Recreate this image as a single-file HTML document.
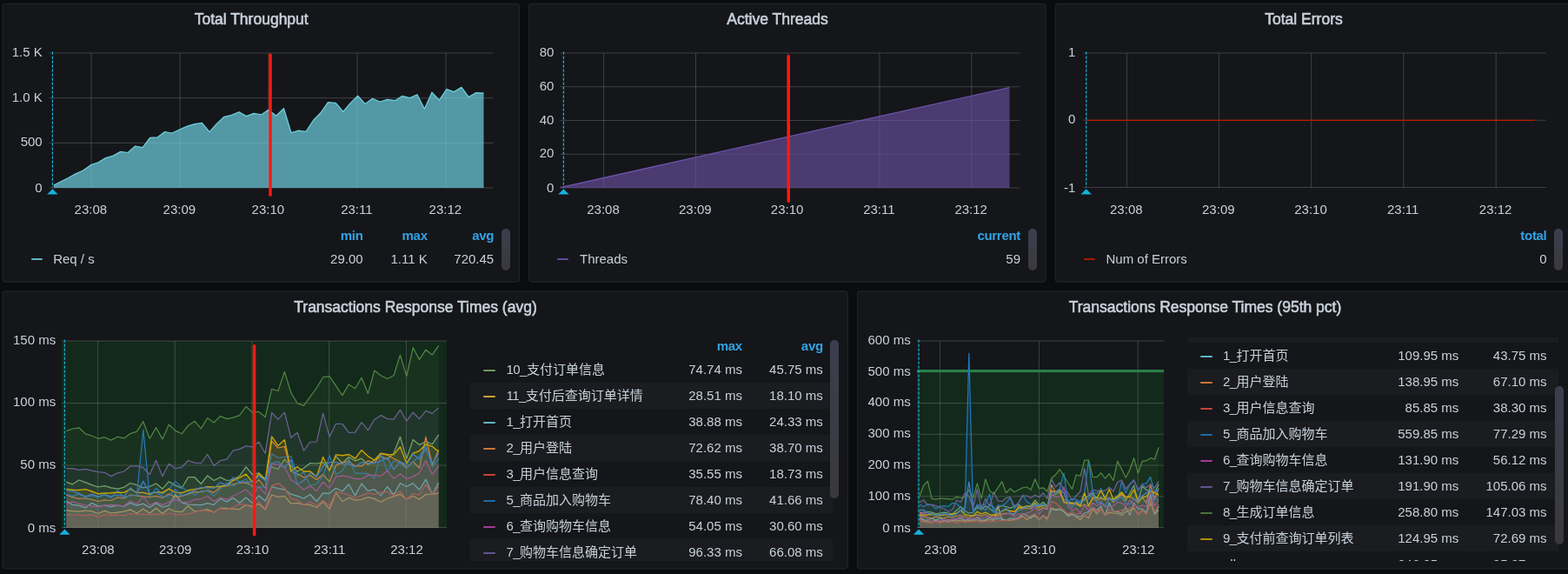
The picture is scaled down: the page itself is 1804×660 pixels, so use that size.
<!DOCTYPE html>
<html lang="zh"><head><meta charset="utf-8"><title>Dashboard</title><style>
html,body{margin:0;padding:0;background:#0b0c0e}
body{width:1804px;height:660px;overflow:hidden;position:relative;font-family:"Liberation Sans","Noto Sans CJK SC",sans-serif;color:#c7d0d9;font-size:15px}
.panel{position:absolute;background:#141619;border:1px solid #202226;border-radius:3px;box-sizing:border-box}
.t{position:absolute;white-space:nowrap;line-height:1}
.title{font-weight:normal;color:#c7d0d9;-webkit-text-stroke:0.6px #c7d0d9}
.lh{color:#33a2e5;font-weight:bold;letter-spacing:-0.3px}
.sb{position:absolute;border-radius:5px;background:linear-gradient(#3d3e4e,#39393c)}
.li{position:absolute;height:2px;border-radius:1px;opacity:.85}
.clip{position:absolute;overflow:hidden}
.px{letter-spacing:-0.55px}
.stripe{position:absolute;height:30px;background:#1a1c20}
svg{position:absolute;left:0;top:0}
</style></head><body>

<svg width="1804" height="660" viewBox="0 0 1804 660">
<rect x="3.02" y="4.33" width="594.45" height="319.85" rx="3.2" fill="#141619" stroke="#202226" stroke-width="1.25"/>
<rect x="608.52" y="4.33" width="594.55" height="319.85" rx="3.2" fill="#141619" stroke="#202226" stroke-width="1.25"/>
<rect x="1214.33" y="4.33" width="596.05" height="319.85" rx="3.2" fill="#141619" stroke="#202226" stroke-width="1.25"/>
<rect x="3.02" y="334.93" width="972.25" height="318.85" rx="3.2" fill="#141619" stroke="#202226" stroke-width="1.25"/>
<rect x="986.52" y="334.93" width="823.85" height="318.85" rx="3.2" fill="#141619" stroke="#202226" stroke-width="1.25"/>
<rect x="56.50" y="60.50" width="511.00" height="1" fill="rgba(200,200,200,0.235)"/>
<rect x="56.50" y="112.17" width="511.00" height="1" fill="rgba(200,200,200,0.235)"/>
<rect x="56.50" y="163.83" width="511.00" height="1" fill="rgba(200,200,200,0.235)"/>
<rect x="56.50" y="215.50" width="511.00" height="1" fill="rgba(200,200,200,0.235)"/>
<rect x="104.50" y="61.00" width="1" height="155.00" fill="rgba(200,200,200,0.235)"/>
<rect x="206.50" y="61.00" width="1" height="155.00" fill="rgba(200,200,200,0.235)"/>
<rect x="308.50" y="61.00" width="1" height="155.00" fill="rgba(200,200,200,0.235)"/>
<rect x="410.50" y="61.00" width="1" height="155.00" fill="rgba(200,200,200,0.235)"/>
<rect x="512.50" y="61.00" width="1" height="155.00" fill="rgba(200,200,200,0.235)"/>
<polygon points="61.7,216 61.7,213.0 70.1,208.8 78.6,204.5 87.1,199.9 95.6,196.0 104.5,189.7 113.0,186.9 121.7,181.6 130.2,179.1 138.7,174.4 147.1,175.5 155.6,168.0 164.1,169.7 172.6,158.3 181.1,157.9 189.6,151.5 198.0,153.0 206.5,149.0 215.4,145.1 223.9,142.6 232.4,141.3 241.0,151.7 249.5,142.1 258.0,134.3 266.5,132.4 275.0,128.7 283.4,133.6 291.9,130.4 300.4,131.9 308.9,126.2 317.6,133.2 326.5,124.7 335.0,152.7 343.5,150.2 352.0,151.4 360.4,138.5 368.9,129.8 377.4,117.7 386.3,118.4 394.8,128.3 403.3,118.4 411.6,110.3 420.1,119.4 428.6,113.3 437.5,117.2 445.6,114.3 454.5,115.7 462.6,110.4 471.5,112.6 480.0,108.7 488.4,125.3 496.9,106.2 505.4,115.1 513.9,102.6 522.4,105.6 530.9,100.3 539.3,111.5 547.8,106.6 556.5,107.1 556.5,216" fill="#6ed0e0" fill-opacity="0.7"/>
<polyline points="61.7,213.0 70.1,208.8 78.6,204.5 87.1,199.9 95.6,196.0 104.5,189.7 113.0,186.9 121.7,181.6 130.2,179.1 138.7,174.4 147.1,175.5 155.6,168.0 164.1,169.7 172.6,158.3 181.1,157.9 189.6,151.5 198.0,153.0 206.5,149.0 215.4,145.1 223.9,142.6 232.4,141.3 241.0,151.7 249.5,142.1 258.0,134.3 266.5,132.4 275.0,128.7 283.4,133.6 291.9,130.4 300.4,131.9 308.9,126.2 317.6,133.2 326.5,124.7 335.0,152.7 343.5,150.2 352.0,151.4 360.4,138.5 368.9,129.8 377.4,117.7 386.3,118.4 394.8,128.3 403.3,118.4 411.6,110.3 420.1,119.4 428.6,113.3 437.5,117.2 445.6,114.3 454.5,115.7 462.6,110.4 471.5,112.6 480.0,108.7 488.4,125.3 496.9,106.2 505.4,115.1 513.9,102.6 522.4,105.6 530.9,100.3 539.3,111.5 547.8,106.6 556.5,107.1" fill="none" stroke="#6ed0e0" stroke-width="1.25" stroke-linejoin="round"/>
<line x1="60.4" y1="59.5" x2="60.4" y2="215.6" stroke="#14b2de" stroke-width="1.25" stroke-dasharray="3.2 1.8"/>
<polygon points="60.4,217.29999999999998 54.199999999999996,223.6 66.6,223.6" fill="#14b2de"/>
<line x1="311" y1="63.2" x2="311" y2="224.3" stroke="#ff1810" stroke-width="3.5" stroke-linecap="round"/>
<rect x="644.50" y="60.50" width="528.50" height="1" fill="rgba(200,200,200,0.235)"/>
<rect x="644.50" y="99.25" width="528.50" height="1" fill="rgba(200,200,200,0.235)"/>
<rect x="644.50" y="138.00" width="528.50" height="1" fill="rgba(200,200,200,0.235)"/>
<rect x="644.50" y="176.75" width="528.50" height="1" fill="rgba(200,200,200,0.235)"/>
<rect x="644.50" y="215.50" width="528.50" height="1" fill="rgba(200,200,200,0.235)"/>
<rect x="694.10" y="61.00" width="1" height="155.00" fill="rgba(200,200,200,0.235)"/>
<rect x="799.90" y="61.00" width="1" height="155.00" fill="rgba(200,200,200,0.235)"/>
<rect x="905.70" y="61.00" width="1" height="155.00" fill="rgba(200,200,200,0.235)"/>
<rect x="1011.50" y="61.00" width="1" height="155.00" fill="rgba(200,200,200,0.235)"/>
<rect x="1117.30" y="61.00" width="1" height="155.00" fill="rgba(200,200,200,0.235)"/>
<polygon points="644.5,216 644.5,215.6 1161.5,100.5 1161.5,216" fill="#6a509f" fill-opacity="0.65"/>
<polyline points="644.5,215.6 1161.5,100.5" fill="none" stroke="#6f52b0" stroke-width="1.25" stroke-linejoin="round"/>
<line x1="648.4" y1="59.5" x2="648.4" y2="215.6" stroke="#14b2de" stroke-width="1.25" stroke-dasharray="3.2 1.8"/>
<polygon points="648.4,217.29999999999998 642.1999999999999,223.6 654.6,223.6" fill="#14b2de"/>
<line x1="907.2" y1="64.7" x2="907.2" y2="231.3" stroke="#ff1810" stroke-width="3.5" stroke-linecap="round"/>
<rect x="1246.40" y="60.50" width="532.10" height="1" fill="rgba(200,200,200,0.235)"/>
<rect x="1246.40" y="137.75" width="532.10" height="1" fill="rgba(200,200,200,0.235)"/>
<rect x="1246.40" y="215.00" width="532.10" height="1" fill="rgba(200,200,200,0.235)"/>
<rect x="1295.90" y="61.00" width="1" height="154.50" fill="rgba(200,200,200,0.235)"/>
<rect x="1401.90" y="61.00" width="1" height="154.50" fill="rgba(200,200,200,0.235)"/>
<rect x="1508.10" y="61.00" width="1" height="154.50" fill="rgba(200,200,200,0.235)"/>
<rect x="1614.30" y="61.00" width="1" height="154.50" fill="rgba(200,200,200,0.235)"/>
<rect x="1720.70" y="61.00" width="1" height="154.50" fill="rgba(200,200,200,0.235)"/>
<line x1="1250" y1="138.25" x2="1765.5" y2="138.25" stroke="#bf1b00" stroke-width="1.25"/>
<line x1="1249.7" y1="59.5" x2="1249.7" y2="215.6" stroke="#14b2de" stroke-width="1.25" stroke-dasharray="3.2 1.8"/>
<polygon points="1249.7,217.29999999999998 1243.5,223.6 1255.9,223.6" fill="#14b2de"/>
<rect x="70.9" y="392" width="443.1" height="215" fill="rgb(11,237,50)" fill-opacity="0.095"/>
<rect x="70.90" y="391.50" width="443.10" height="1" fill="rgba(200,200,200,0.235)"/>
<rect x="70.90" y="463.00" width="443.10" height="1" fill="rgba(200,200,200,0.235)"/>
<rect x="70.90" y="534.50" width="443.10" height="1" fill="rgba(200,200,200,0.235)"/>
<rect x="70.90" y="606.00" width="443.10" height="1" fill="rgba(200,200,200,0.235)"/>
<rect x="111.90" y="392.00" width="1" height="214.50" fill="rgba(200,200,200,0.235)"/>
<rect x="200.70" y="392.00" width="1" height="214.50" fill="rgba(200,200,200,0.235)"/>
<rect x="289.50" y="392.00" width="1" height="214.50" fill="rgba(200,200,200,0.235)"/>
<rect x="378.20" y="392.00" width="1" height="214.50" fill="rgba(200,200,200,0.235)"/>
<rect x="467.00" y="392.00" width="1" height="214.50" fill="rgba(200,200,200,0.235)"/>
<polygon points="76.1,607 76.1,554.2 83.5,556.8 90.9,552.0 98.3,554.6 105.7,557.7 113.0,560.0 120.4,558.6 127.8,560.9 135.2,562.1 142.6,560.3 150.0,555.5 157.4,557.7 164.8,560.9 172.2,559.5 179.6,556.0 186.9,562.1 194.3,553.7 201.7,558.1 209.1,561.2 216.5,548.7 223.9,548.7 231.3,556.5 238.7,546.9 246.1,552.5 253.5,548.7 260.9,552.5 268.2,551.6 275.6,547.3 283.0,536.8 290.4,545.5 297.8,543.8 305.2,550.7 312.6,536.8 320.0,539.4 327.4,528.1 334.8,535.9 342.1,542.0 349.5,538.2 356.9,532.5 364.3,533.0 371.7,531.6 379.1,540.3 386.5,524.6 393.9,532.5 401.3,525.5 408.6,529.8 416.0,527.2 423.4,534.2 430.8,529.0 438.2,524.6 445.6,528.1 453.0,521.1 460.4,502.3 467.8,527.2 475.2,505.5 482.5,511.6 489.9,507.5 497.3,510.7 504.7,499.9 504.7,607" fill="#7eb26d" fill-opacity="0.1"/>
<polyline points="76.1,554.2 83.5,556.8 90.9,552.0 98.3,554.6 105.7,557.7 113.0,560.0 120.4,558.6 127.8,560.9 135.2,562.1 142.6,560.3 150.0,555.5 157.4,557.7 164.8,560.9 172.2,559.5 179.6,556.0 186.9,562.1 194.3,553.7 201.7,558.1 209.1,561.2 216.5,548.7 223.9,548.7 231.3,556.5 238.7,546.9 246.1,552.5 253.5,548.7 260.9,552.5 268.2,551.6 275.6,547.3 283.0,536.8 290.4,545.5 297.8,543.8 305.2,550.7 312.6,536.8 320.0,539.4 327.4,528.1 334.8,535.9 342.1,542.0 349.5,538.2 356.9,532.5 364.3,533.0 371.7,531.6 379.1,540.3 386.5,524.6 393.9,532.5 401.3,525.5 408.6,529.8 416.0,527.2 423.4,534.2 430.8,529.0 438.2,524.6 445.6,528.1 453.0,521.1 460.4,502.3 467.8,527.2 475.2,505.5 482.5,511.6 489.9,507.5 497.3,510.7 504.7,499.9" fill="none" stroke="#7eb26d" stroke-width="1.25" stroke-linejoin="round"/>
<polygon points="76.1,607 76.1,586.8 83.5,587.7 90.9,588.2 98.3,587.0 105.7,587.9 113.0,590.5 120.4,587.3 127.8,590.0 135.2,589.1 142.6,588.2 150.0,585.9 157.4,590.0 164.8,585.2 172.2,590.0 179.6,584.2 186.9,590.5 194.3,584.7 201.7,588.2 209.1,588.7 216.5,581.6 223.9,588.2 231.3,587.0 238.7,585.6 246.1,589.1 253.5,584.2 260.9,584.7 268.2,585.2 275.6,585.6 283.0,580.7 290.4,582.1 297.8,579.5 305.2,585.9 312.6,569.0 320.0,571.3 327.4,570.4 334.8,579.0 342.1,578.3 349.5,580.4 356.9,580.4 364.3,583.5 371.7,576.9 379.1,585.2 386.5,566.4 393.9,576.5 401.3,572.2 408.6,575.1 416.0,574.3 423.4,571.7 430.8,573.4 438.2,577.2 445.6,573.0 453.0,570.8 460.4,568.2 467.8,574.3 475.2,570.3 482.5,574.3 489.9,568.5 497.3,568.2 504.7,566.8 504.7,607" fill="#eab839" fill-opacity="0.1"/>
<polyline points="76.1,586.8 83.5,587.7 90.9,588.2 98.3,587.0 105.7,587.9 113.0,590.5 120.4,587.3 127.8,590.0 135.2,589.1 142.6,588.2 150.0,585.9 157.4,590.0 164.8,585.2 172.2,590.0 179.6,584.2 186.9,590.5 194.3,584.7 201.7,588.2 209.1,588.7 216.5,581.6 223.9,588.2 231.3,587.0 238.7,585.6 246.1,589.1 253.5,584.2 260.9,584.7 268.2,585.2 275.6,585.6 283.0,580.7 290.4,582.1 297.8,579.5 305.2,585.9 312.6,569.0 320.0,571.3 327.4,570.4 334.8,579.0 342.1,578.3 349.5,580.4 356.9,580.4 364.3,583.5 371.7,576.9 379.1,585.2 386.5,566.4 393.9,576.5 401.3,572.2 408.6,575.1 416.0,574.3 423.4,571.7 430.8,573.4 438.2,577.2 445.6,573.0 453.0,570.8 460.4,568.2 467.8,574.3 475.2,570.3 482.5,574.3 489.9,568.5 497.3,568.2 504.7,566.8" fill="none" stroke="#eab839" stroke-width="1.25" stroke-linejoin="round"/>
<polygon points="76.1,607 76.1,576.0 83.5,580.4 90.9,581.2 98.3,583.9 105.7,578.3 113.0,582.1 120.4,581.2 127.8,582.6 135.2,581.2 142.6,582.1 150.0,578.3 157.4,581.2 164.8,579.1 172.2,583.5 179.6,578.6 186.9,583.0 194.3,581.2 201.7,568.5 209.1,577.8 216.5,580.0 223.9,580.4 231.3,580.7 238.7,578.6 246.1,580.4 253.5,573.4 260.9,576.9 268.2,572.5 275.6,578.3 283.0,572.0 290.4,578.3 297.8,569.9 305.2,576.0 312.6,559.8 320.0,561.6 327.4,562.9 334.8,568.2 342.1,570.3 349.5,573.0 356.9,568.5 364.3,576.5 371.7,566.8 379.1,567.3 386.5,561.2 393.9,564.7 401.3,556.8 408.6,569.9 416.0,556.0 423.4,564.3 430.8,562.6 438.2,569.9 445.6,559.5 453.0,569.0 460.4,555.6 467.8,559.5 475.2,555.6 482.5,563.3 489.9,551.1 497.3,568.2 504.7,555.1 504.7,607" fill="#6ed0e0" fill-opacity="0.1"/>
<polyline points="76.1,576.0 83.5,580.4 90.9,581.2 98.3,583.9 105.7,578.3 113.0,582.1 120.4,581.2 127.8,582.6 135.2,581.2 142.6,582.1 150.0,578.3 157.4,581.2 164.8,579.1 172.2,583.5 179.6,578.6 186.9,583.0 194.3,581.2 201.7,568.5 209.1,577.8 216.5,580.0 223.9,580.4 231.3,580.7 238.7,578.6 246.1,580.4 253.5,573.4 260.9,576.9 268.2,572.5 275.6,578.3 283.0,572.0 290.4,578.3 297.8,569.9 305.2,576.0 312.6,559.8 320.0,561.6 327.4,562.9 334.8,568.2 342.1,570.3 349.5,573.0 356.9,568.5 364.3,576.5 371.7,566.8 379.1,567.3 386.5,561.2 393.9,564.7 401.3,556.8 408.6,569.9 416.0,556.0 423.4,564.3 430.8,562.6 438.2,569.9 445.6,559.5 453.0,569.0 460.4,555.6 467.8,559.5 475.2,555.6 482.5,563.3 489.9,551.1 497.3,568.2 504.7,555.1" fill="none" stroke="#6ed0e0" stroke-width="1.25" stroke-linejoin="round"/>
<polygon points="76.1,607 76.1,569.0 83.5,571.7 90.9,573.4 98.3,573.0 105.7,574.3 113.0,576.5 120.4,574.8 127.8,575.5 135.2,571.7 142.6,573.0 150.0,569.0 157.4,569.9 164.8,570.8 172.2,571.7 179.6,570.3 186.9,572.5 194.3,567.8 201.7,571.7 209.1,570.3 216.5,568.2 223.9,565.6 231.3,565.6 238.7,563.8 246.1,566.4 253.5,559.8 260.9,558.6 268.2,556.8 275.6,555.1 283.0,555.1 290.4,558.6 297.8,551.6 305.2,561.2 312.6,507.2 320.0,515.0 327.4,513.3 334.8,542.0 342.1,544.7 349.5,549.0 356.9,546.4 364.3,551.6 371.7,545.5 379.1,554.2 386.5,535.1 393.9,531.6 401.3,530.7 408.6,535.9 416.0,535.9 423.4,529.8 430.8,532.5 438.2,522.0 445.6,523.2 453.0,527.2 460.4,530.7 467.8,537.7 475.2,530.7 482.5,538.2 489.9,502.3 497.3,534.2 504.7,517.6 504.7,607" fill="#ef843c" fill-opacity="0.1"/>
<polyline points="76.1,569.0 83.5,571.7 90.9,573.4 98.3,573.0 105.7,574.3 113.0,576.5 120.4,574.8 127.8,575.5 135.2,571.7 142.6,573.0 150.0,569.0 157.4,569.9 164.8,570.8 172.2,571.7 179.6,570.3 186.9,572.5 194.3,567.8 201.7,571.7 209.1,570.3 216.5,568.2 223.9,565.6 231.3,565.6 238.7,563.8 246.1,566.4 253.5,559.8 260.9,558.6 268.2,556.8 275.6,555.1 283.0,555.1 290.4,558.6 297.8,551.6 305.2,561.2 312.6,507.2 320.0,515.0 327.4,513.3 334.8,542.0 342.1,544.7 349.5,549.0 356.9,546.4 364.3,551.6 371.7,545.5 379.1,554.2 386.5,535.1 393.9,531.6 401.3,530.7 408.6,535.9 416.0,535.9 423.4,529.8 430.8,532.5 438.2,522.0 445.6,523.2 453.0,527.2 460.4,530.7 467.8,537.7 475.2,530.7 482.5,538.2 489.9,502.3 497.3,534.2 504.7,517.6" fill="none" stroke="#ef843c" stroke-width="1.25" stroke-linejoin="round"/>
<polygon points="76.1,607 76.1,591.3 83.5,592.0 90.9,592.2 98.3,593.1 105.7,591.7 113.0,594.3 120.4,591.7 127.8,592.6 135.2,592.2 142.6,592.9 150.0,590.5 157.4,591.3 164.8,591.3 172.2,591.7 179.6,590.8 186.9,592.2 194.3,590.0 201.7,591.7 209.1,591.7 216.5,590.8 223.9,589.1 231.3,586.5 238.7,587.3 246.1,589.1 253.5,584.7 260.9,585.9 268.2,583.0 275.6,579.5 283.0,580.4 290.4,583.9 297.8,576.9 305.2,584.7 312.6,558.6 320.0,555.6 327.4,560.9 334.8,573.4 342.1,574.8 349.5,580.4 356.9,577.2 364.3,580.7 371.7,575.5 379.1,581.2 386.5,565.6 393.9,566.8 401.3,569.0 408.6,572.5 416.0,569.9 423.4,566.8 430.8,568.5 438.2,565.6 445.6,565.6 453.0,569.6 460.4,564.7 467.8,574.3 475.2,567.3 482.5,569.0 489.9,556.8 497.3,568.2 504.7,559.1 504.7,607" fill="#e24d42" fill-opacity="0.1"/>
<polyline points="76.1,591.3 83.5,592.0 90.9,592.2 98.3,593.1 105.7,591.7 113.0,594.3 120.4,591.7 127.8,592.6 135.2,592.2 142.6,592.9 150.0,590.5 157.4,591.3 164.8,591.3 172.2,591.7 179.6,590.8 186.9,592.2 194.3,590.0 201.7,591.7 209.1,591.7 216.5,590.8 223.9,589.1 231.3,586.5 238.7,587.3 246.1,589.1 253.5,584.7 260.9,585.9 268.2,583.0 275.6,579.5 283.0,580.4 290.4,583.9 297.8,576.9 305.2,584.7 312.6,558.6 320.0,555.6 327.4,560.9 334.8,573.4 342.1,574.8 349.5,580.4 356.9,577.2 364.3,580.7 371.7,575.5 379.1,581.2 386.5,565.6 393.9,566.8 401.3,569.0 408.6,572.5 416.0,569.9 423.4,566.8 430.8,568.5 438.2,565.6 445.6,565.6 453.0,569.6 460.4,564.7 467.8,574.3 475.2,567.3 482.5,569.0 489.9,556.8 497.3,568.2 504.7,559.1" fill="none" stroke="#e24d42" stroke-width="1.25" stroke-linejoin="round"/>
<polygon points="76.1,607 76.1,568.5 83.5,570.3 90.9,568.2 98.3,571.7 105.7,569.6 113.0,571.7 120.4,569.0 127.8,572.5 135.2,563.8 142.6,571.7 150.0,569.9 157.4,569.6 164.8,494.4 172.2,570.8 179.6,561.2 186.9,568.2 194.3,562.1 201.7,553.4 209.1,560.3 216.5,564.7 223.9,569.0 231.3,564.7 238.7,564.3 246.1,570.3 253.5,562.1 260.9,555.1 268.2,558.6 275.6,554.2 283.0,550.7 290.4,560.3 297.8,559.8 305.2,559.8 312.6,522.0 320.0,526.4 327.4,525.5 334.8,524.6 342.1,547.3 349.5,542.9 356.9,558.6 364.3,556.0 371.7,547.3 379.1,523.7 386.5,545.5 393.9,541.2 401.3,527.2 408.6,544.1 416.0,544.1 423.4,544.7 430.8,549.9 438.2,521.1 445.6,542.0 453.0,529.8 460.4,532.5 467.8,538.6 475.2,530.7 482.5,524.6 489.9,512.4 497.3,536.8 504.7,527.2 504.7,607" fill="#1f78c1" fill-opacity="0.1"/>
<polyline points="76.1,568.5 83.5,570.3 90.9,568.2 98.3,571.7 105.7,569.6 113.0,571.7 120.4,569.0 127.8,572.5 135.2,563.8 142.6,571.7 150.0,569.9 157.4,569.6 164.8,494.4 172.2,570.8 179.6,561.2 186.9,568.2 194.3,562.1 201.7,553.4 209.1,560.3 216.5,564.7 223.9,569.0 231.3,564.7 238.7,564.3 246.1,570.3 253.5,562.1 260.9,555.1 268.2,558.6 275.6,554.2 283.0,550.7 290.4,560.3 297.8,559.8 305.2,559.8 312.6,522.0 320.0,526.4 327.4,525.5 334.8,524.6 342.1,547.3 349.5,542.9 356.9,558.6 364.3,556.0 371.7,547.3 379.1,523.7 386.5,545.5 393.9,541.2 401.3,527.2 408.6,544.1 416.0,544.1 423.4,544.7 430.8,549.9 438.2,521.1 445.6,542.0 453.0,529.8 460.4,532.5 467.8,538.6 475.2,530.7 482.5,524.6 489.9,512.4 497.3,536.8 504.7,527.2" fill="none" stroke="#1f78c1" stroke-width="1.25" stroke-linejoin="round"/>
<polygon points="76.1,607 76.1,579.5 83.5,576.9 90.9,579.0 98.3,581.2 105.7,581.8 113.0,582.6 120.4,581.2 127.8,580.4 135.2,581.2 142.6,581.8 150.0,576.0 157.4,579.5 164.8,570.8 172.2,580.7 179.6,577.2 186.9,580.4 194.3,577.2 201.7,574.3 209.1,576.9 216.5,577.8 223.9,574.3 231.3,573.7 238.7,570.3 246.1,576.5 253.5,572.0 260.9,574.3 268.2,570.3 275.6,566.8 283.0,562.9 290.4,570.3 297.8,559.5 305.2,568.2 312.6,533.3 320.0,534.2 327.4,536.8 334.8,551.6 342.1,556.8 349.5,563.3 356.9,558.6 364.3,564.7 371.7,554.2 379.1,561.2 386.5,548.1 393.9,546.9 401.3,548.1 408.6,550.7 416.0,550.7 423.4,546.4 430.8,546.4 438.2,547.3 445.6,541.2 453.0,550.4 460.4,544.7 467.8,550.7 475.2,548.1 482.5,543.8 489.9,529.5 497.3,545.5 504.7,535.9 504.7,607" fill="#ba43a9" fill-opacity="0.1"/>
<polyline points="76.1,579.5 83.5,576.9 90.9,579.0 98.3,581.2 105.7,581.8 113.0,582.6 120.4,581.2 127.8,580.4 135.2,581.2 142.6,581.8 150.0,576.0 157.4,579.5 164.8,570.8 172.2,580.7 179.6,577.2 186.9,580.4 194.3,577.2 201.7,574.3 209.1,576.9 216.5,577.8 223.9,574.3 231.3,573.7 238.7,570.3 246.1,576.5 253.5,572.0 260.9,574.3 268.2,570.3 275.6,566.8 283.0,562.9 290.4,570.3 297.8,559.5 305.2,568.2 312.6,533.3 320.0,534.2 327.4,536.8 334.8,551.6 342.1,556.8 349.5,563.3 356.9,558.6 364.3,564.7 371.7,554.2 379.1,561.2 386.5,548.1 393.9,546.9 401.3,548.1 408.6,550.7 416.0,550.7 423.4,546.4 430.8,546.4 438.2,547.3 445.6,541.2 453.0,550.4 460.4,544.7 467.8,550.7 475.2,548.1 482.5,543.8 489.9,529.5 497.3,545.5 504.7,535.9" fill="none" stroke="#ba43a9" stroke-width="1.25" stroke-linejoin="round"/>
<polygon points="76.1,607 76.1,538.6 83.5,538.6 90.9,540.3 98.3,539.4 105.7,541.2 113.0,542.6 120.4,543.3 127.8,547.6 135.2,543.8 142.6,542.0 150.0,535.9 157.4,535.9 164.8,537.7 172.2,545.5 179.6,529.3 186.9,547.6 194.3,533.3 201.7,538.6 209.1,537.3 216.5,529.5 223.9,532.1 231.3,532.5 238.7,522.5 246.1,535.4 253.5,529.5 260.9,528.1 268.2,518.2 275.6,516.4 283.0,512.9 290.4,513.8 297.8,508.1 305.2,521.5 312.6,474.4 320.0,482.2 327.4,474.2 334.8,503.3 342.1,497.5 349.5,518.4 356.9,508.0 364.3,507.8 371.7,475.4 379.1,502.2 386.5,487.3 393.9,487.5 401.3,497.3 408.6,497.1 416.0,485.7 423.4,494.7 430.8,482.4 438.2,477.5 445.6,481.6 453.0,482.2 460.4,471.4 467.8,484.2 475.2,474.2 482.5,481.6 489.9,472.4 497.3,475.4 504.7,468.9 504.7,607" fill="#705da0" fill-opacity="0.1"/>
<polyline points="76.1,538.6 83.5,538.6 90.9,540.3 98.3,539.4 105.7,541.2 113.0,542.6 120.4,543.3 127.8,547.6 135.2,543.8 142.6,542.0 150.0,535.9 157.4,535.9 164.8,537.7 172.2,545.5 179.6,529.3 186.9,547.6 194.3,533.3 201.7,538.6 209.1,537.3 216.5,529.5 223.9,532.1 231.3,532.5 238.7,522.5 246.1,535.4 253.5,529.5 260.9,528.1 268.2,518.2 275.6,516.4 283.0,512.9 290.4,513.8 297.8,508.1 305.2,521.5 312.6,474.4 320.0,482.2 327.4,474.2 334.8,503.3 342.1,497.5 349.5,518.4 356.9,508.0 364.3,507.8 371.7,475.4 379.1,502.2 386.5,487.3 393.9,487.5 401.3,497.3 408.6,497.1 416.0,485.7 423.4,494.7 430.8,482.4 438.2,477.5 445.6,481.6 453.0,482.2 460.4,471.4 467.8,484.2 475.2,474.2 482.5,481.6 489.9,472.4 497.3,475.4 504.7,468.9" fill="none" stroke="#705da0" stroke-width="1.25" stroke-linejoin="round"/>
<polygon points="76.1,607 76.1,495.7 83.5,493.0 90.9,491.8 98.3,498.8 105.7,501.0 113.0,504.3 120.4,502.7 127.8,506.1 135.2,502.2 142.6,503.9 150.0,498.6 157.4,496.1 164.8,484.7 172.2,504.3 179.6,491.6 186.9,504.9 194.3,488.3 201.7,495.1 209.1,498.8 216.5,489.4 223.9,484.2 231.3,492.8 238.7,480.6 246.1,485.9 253.5,478.5 260.9,481.6 268.2,480.2 275.6,477.7 283.0,467.5 290.4,474.0 297.8,473.4 305.2,479.5 312.6,447.4 320.0,449.5 327.4,427.4 334.8,451.5 342.1,463.8 349.5,466.4 356.9,456.2 364.3,446.0 371.7,433.7 379.1,432.7 386.5,443.7 393.9,454.6 401.3,441.9 408.6,446.8 416.0,434.3 423.4,452.5 430.8,426.1 438.2,431.7 445.6,435.5 453.0,431.7 460.4,408.1 467.8,432.5 475.2,399.7 482.5,413.4 489.9,402.2 497.3,407.9 504.7,397.3 504.7,607" fill="#508642" fill-opacity="0.1"/>
<polyline points="76.1,495.7 83.5,493.0 90.9,491.8 98.3,498.8 105.7,501.0 113.0,504.3 120.4,502.7 127.8,506.1 135.2,502.2 142.6,503.9 150.0,498.6 157.4,496.1 164.8,484.7 172.2,504.3 179.6,491.6 186.9,504.9 194.3,488.3 201.7,495.1 209.1,498.8 216.5,489.4 223.9,484.2 231.3,492.8 238.7,480.6 246.1,485.9 253.5,478.5 260.9,481.6 268.2,480.2 275.6,477.7 283.0,467.5 290.4,474.0 297.8,473.4 305.2,479.5 312.6,447.4 320.0,449.5 327.4,427.4 334.8,451.5 342.1,463.8 349.5,466.4 356.9,456.2 364.3,446.0 371.7,433.7 379.1,432.7 386.5,443.7 393.9,454.6 401.3,441.9 408.6,446.8 416.0,434.3 423.4,452.5 430.8,426.1 438.2,431.7 445.6,435.5 453.0,431.7 460.4,408.1 467.8,432.5 475.2,399.7 482.5,413.4 489.9,402.2 497.3,407.9 504.7,397.3" fill="none" stroke="#508642" stroke-width="1.25" stroke-linejoin="round"/>
<polygon points="76.1,607 76.1,562.4 83.5,563.3 90.9,563.5 98.3,562.6 105.7,565.0 113.0,567.8 120.4,567.0 127.8,566.8 135.2,566.1 142.6,566.4 150.0,562.1 157.4,566.4 164.8,566.4 172.2,568.2 179.6,565.6 186.9,566.4 194.3,562.1 201.7,566.1 209.1,566.8 216.5,563.8 223.9,562.6 231.3,561.2 238.7,559.8 246.1,560.0 253.5,559.1 260.9,558.1 268.2,552.5 275.6,549.4 283.0,545.2 290.4,554.2 297.8,544.7 305.2,552.5 312.6,502.0 320.0,512.4 327.4,505.8 334.8,541.2 342.1,536.8 349.5,542.0 356.9,542.0 364.3,548.1 371.7,525.5 379.1,541.2 386.5,522.9 393.9,523.7 401.3,522.5 408.6,527.2 416.0,517.6 423.4,524.6 430.8,529.0 438.2,521.1 445.6,522.5 453.0,522.9 460.4,513.8 467.8,532.5 475.2,521.1 482.5,518.5 489.9,510.7 497.3,513.3 504.7,519.4 504.7,607" fill="#cca300" fill-opacity="0.1"/>
<polyline points="76.1,562.4 83.5,563.3 90.9,563.5 98.3,562.6 105.7,565.0 113.0,567.8 120.4,567.0 127.8,566.8 135.2,566.1 142.6,566.4 150.0,562.1 157.4,566.4 164.8,566.4 172.2,568.2 179.6,565.6 186.9,566.4 194.3,562.1 201.7,566.1 209.1,566.8 216.5,563.8 223.9,562.6 231.3,561.2 238.7,559.8 246.1,560.0 253.5,559.1 260.9,558.1 268.2,552.5 275.6,549.4 283.0,545.2 290.4,554.2 297.8,544.7 305.2,552.5 312.6,502.0 320.0,512.4 327.4,505.8 334.8,541.2 342.1,536.8 349.5,542.0 356.9,542.0 364.3,548.1 371.7,525.5 379.1,541.2 386.5,522.9 393.9,523.7 401.3,522.5 408.6,527.2 416.0,517.6 423.4,524.6 430.8,529.0 438.2,521.1 445.6,522.5 453.0,522.9 460.4,513.8 467.8,532.5 475.2,521.1 482.5,518.5 489.9,510.7 497.3,513.3 504.7,519.4" fill="none" stroke="#cca300" stroke-width="1.4" stroke-linejoin="round"/>
<polygon points="76.1,607 76.1,563.8 83.5,564.7 90.9,567.3 98.3,570.8 105.7,568.2 113.0,570.8 120.4,568.5 127.8,570.8 135.2,569.0 142.6,570.8 150.0,560.9 157.4,567.3 164.8,553.4 172.2,567.3 179.6,565.6 186.9,571.3 194.3,569.9 201.7,562.9 209.1,570.3 216.5,567.3 223.9,563.8 231.3,560.3 238.7,560.9 246.1,561.2 253.5,554.8 260.9,558.1 268.2,549.0 275.6,554.2 283.0,554.2 290.4,554.2 297.8,547.3 305.2,552.5 312.6,532.5 320.0,530.7 327.4,537.7 334.8,529.0 342.1,556.8 349.5,552.5 356.9,543.8 364.3,548.1 371.7,535.9 379.1,531.6 386.5,531.6 393.9,533.3 401.3,533.3 408.6,536.8 416.0,531.6 423.4,532.5 430.8,532.5 438.2,529.8 445.6,526.4 453.0,539.9 460.4,530.7 467.8,534.2 475.2,522.0 482.5,528.1 489.9,515.6 497.3,532.5 504.7,521.1 504.7,607" fill="#447ebc" fill-opacity="0.1"/>
<polyline points="76.1,563.8 83.5,564.7 90.9,567.3 98.3,570.8 105.7,568.2 113.0,570.8 120.4,568.5 127.8,570.8 135.2,569.0 142.6,570.8 150.0,560.9 157.4,567.3 164.8,553.4 172.2,567.3 179.6,565.6 186.9,571.3 194.3,569.9 201.7,562.9 209.1,570.3 216.5,567.3 223.9,563.8 231.3,560.3 238.7,560.9 246.1,561.2 253.5,554.8 260.9,558.1 268.2,549.0 275.6,554.2 283.0,554.2 290.4,554.2 297.8,547.3 305.2,552.5 312.6,532.5 320.0,530.7 327.4,537.7 334.8,529.0 342.1,556.8 349.5,552.5 356.9,543.8 364.3,548.1 371.7,535.9 379.1,531.6 386.5,531.6 393.9,533.3 401.3,533.3 408.6,536.8 416.0,531.6 423.4,532.5 430.8,532.5 438.2,529.8 445.6,526.4 453.0,539.9 460.4,530.7 467.8,534.2 475.2,522.0 482.5,528.1 489.9,515.6 497.3,532.5 504.7,521.1" fill="none" stroke="#447ebc" stroke-width="1.25" stroke-linejoin="round"/>
<line x1="74.4" y1="390.5" x2="74.4" y2="606.8" stroke="#14b2de" stroke-width="1.25" stroke-dasharray="3.2 1.8"/>
<polygon points="74.4,608.5 68.2,614.8 80.60000000000001,614.8" fill="#14b2de"/>
<line x1="292.6" y1="397.7" x2="292.6" y2="614.6999999999999" stroke="#ff1810" stroke-width="3.5" stroke-linecap="round"/>
<rect x="1055" y="426.5" width="284" height="180.5" fill="rgb(11,237,50)" fill-opacity="0.095"/>
<rect x="1055.00" y="391.50" width="284.00" height="1" fill="rgba(200,200,200,0.235)"/>
<rect x="1055.00" y="427.25" width="284.00" height="1" fill="rgba(200,200,200,0.235)"/>
<rect x="1055.00" y="463.00" width="284.00" height="1" fill="rgba(200,200,200,0.235)"/>
<rect x="1055.00" y="498.75" width="284.00" height="1" fill="rgba(200,200,200,0.235)"/>
<rect x="1055.00" y="534.50" width="284.00" height="1" fill="rgba(200,200,200,0.235)"/>
<rect x="1055.00" y="570.25" width="284.00" height="1" fill="rgba(200,200,200,0.235)"/>
<rect x="1055.00" y="606.00" width="284.00" height="1" fill="rgba(200,200,200,0.235)"/>
<rect x="1081.10" y="392.00" width="1" height="214.50" fill="rgba(200,200,200,0.235)"/>
<rect x="1194.90" y="392.00" width="1" height="214.50" fill="rgba(200,200,200,0.235)"/>
<rect x="1308.70" y="392.00" width="1" height="214.50" fill="rgba(200,200,200,0.235)"/>
<rect x="1055.00" y="425.00" width="284.00" height="3" fill="rgb(38,128,70)"/>
<polygon points="1057.9,607 1057.9,589.2 1062.6,590.0 1067.4,588.3 1072.1,589.2 1076.9,590.8 1081.6,590.0 1086.4,589.2 1091.1,590.0 1095.9,590.8 1100.6,586.7 1105.4,582.5 1110.1,587.5 1114.8,590.0 1119.6,589.2 1124.3,583.3 1129.1,585.8 1133.8,581.7 1138.6,585.0 1143.3,588.3 1148.1,583.3 1152.8,581.3 1157.5,582.5 1162.3,584.2 1167.0,582.5 1171.8,580.0 1176.5,583.3 1181.3,582.5 1186.0,581.7 1190.8,575.0 1195.5,580.8 1200.2,577.5 1205.0,581.7 1209.7,570.0 1214.5,568.3 1219.2,565.8 1224.0,574.2 1228.7,576.7 1233.5,578.3 1238.2,577.5 1243.0,580.0 1247.7,573.3 1252.4,570.0 1257.2,566.7 1261.9,573.3 1266.7,571.7 1271.4,574.2 1276.2,572.5 1280.9,574.2 1285.7,570.0 1290.4,566.7 1295.2,575.8 1299.9,566.7 1304.6,558.3 1309.4,576.7 1314.1,559.2 1318.9,563.3 1323.6,564.2 1328.4,566.7 1333.1,556.7 1333.1,607" fill="#7eb26d" fill-opacity="0.1"/>
<polyline points="1057.9,589.2 1062.6,590.0 1067.4,588.3 1072.1,589.2 1076.9,590.8 1081.6,590.0 1086.4,589.2 1091.1,590.0 1095.9,590.8 1100.6,586.7 1105.4,582.5 1110.1,587.5 1114.8,590.0 1119.6,589.2 1124.3,583.3 1129.1,585.8 1133.8,581.7 1138.6,585.0 1143.3,588.3 1148.1,583.3 1152.8,581.3 1157.5,582.5 1162.3,584.2 1167.0,582.5 1171.8,580.0 1176.5,583.3 1181.3,582.5 1186.0,581.7 1190.8,575.0 1195.5,580.8 1200.2,577.5 1205.0,581.7 1209.7,570.0 1214.5,568.3 1219.2,565.8 1224.0,574.2 1228.7,576.7 1233.5,578.3 1238.2,577.5 1243.0,580.0 1247.7,573.3 1252.4,570.0 1257.2,566.7 1261.9,573.3 1266.7,571.7 1271.4,574.2 1276.2,572.5 1280.9,574.2 1285.7,570.0 1290.4,566.7 1295.2,575.8 1299.9,566.7 1304.6,558.3 1309.4,576.7 1314.1,559.2 1318.9,563.3 1323.6,564.2 1328.4,566.7 1333.1,556.7" fill="none" stroke="#7eb26d" stroke-width="1.25" stroke-linejoin="round"/>
<polygon points="1057.9,607 1057.9,595.8 1062.6,599.2 1067.4,600.0 1072.1,599.7 1076.9,598.3 1081.6,600.0 1086.4,599.2 1091.1,599.7 1095.9,598.3 1100.6,599.2 1105.4,598.0 1110.1,599.7 1114.8,598.3 1119.6,599.2 1124.3,597.5 1129.1,599.7 1133.8,598.3 1138.6,597.5 1143.3,598.3 1148.1,582.0 1152.8,597.5 1157.5,598.3 1162.3,598.3 1167.0,597.5 1171.8,596.7 1176.5,593.3 1181.3,597.5 1186.0,594.2 1190.8,593.3 1195.5,596.7 1200.2,593.3 1205.0,595.8 1209.7,584.2 1214.5,585.8 1219.2,585.0 1224.0,588.3 1228.7,591.7 1233.5,590.8 1238.2,594.2 1243.0,597.5 1247.7,592.5 1252.4,595.8 1257.2,585.0 1261.9,590.8 1266.7,585.0 1271.4,592.5 1276.2,589.2 1280.9,590.0 1285.7,590.0 1290.4,592.5 1295.2,588.3 1299.9,586.7 1304.6,584.2 1309.4,591.7 1314.1,586.7 1318.9,590.8 1323.6,578.3 1328.4,590.8 1333.1,586.7 1333.1,607" fill="#eab839" fill-opacity="0.1"/>
<polyline points="1057.9,595.8 1062.6,599.2 1067.4,600.0 1072.1,599.7 1076.9,598.3 1081.6,600.0 1086.4,599.2 1091.1,599.7 1095.9,598.3 1100.6,599.2 1105.4,598.0 1110.1,599.7 1114.8,598.3 1119.6,599.2 1124.3,597.5 1129.1,599.7 1133.8,598.3 1138.6,597.5 1143.3,598.3 1148.1,582.0 1152.8,597.5 1157.5,598.3 1162.3,598.3 1167.0,597.5 1171.8,596.7 1176.5,593.3 1181.3,597.5 1186.0,594.2 1190.8,593.3 1195.5,596.7 1200.2,593.3 1205.0,595.8 1209.7,584.2 1214.5,585.8 1219.2,585.0 1224.0,588.3 1228.7,591.7 1233.5,590.8 1238.2,594.2 1243.0,597.5 1247.7,592.5 1252.4,595.8 1257.2,585.0 1261.9,590.8 1266.7,585.0 1271.4,592.5 1276.2,589.2 1280.9,590.0 1285.7,590.0 1290.4,592.5 1295.2,588.3 1299.9,586.7 1304.6,584.2 1309.4,591.7 1314.1,586.7 1318.9,590.8 1323.6,578.3 1328.4,590.8 1333.1,586.7" fill="none" stroke="#eab839" stroke-width="1.25" stroke-linejoin="round"/>
<polygon points="1057.9,607 1057.9,593.3 1062.6,597.5 1067.4,598.3 1072.1,595.8 1076.9,598.3 1081.6,595.0 1086.4,599.2 1091.1,597.5 1095.9,598.3 1100.6,596.7 1105.4,595.8 1110.1,598.3 1114.8,596.7 1119.6,597.5 1124.3,595.0 1129.1,598.3 1133.8,597.5 1138.6,595.0 1143.3,597.5 1148.1,595.8 1152.8,596.7 1157.5,598.3 1162.3,595.8 1167.0,596.7 1171.8,595.0 1176.5,590.8 1181.3,592.5 1186.0,595.8 1190.8,590.8 1195.5,597.5 1200.2,592.5 1205.0,596.7 1209.7,585.0 1214.5,586.7 1219.2,585.8 1224.0,588.3 1228.7,593.3 1233.5,591.7 1238.2,593.3 1243.0,594.2 1247.7,590.0 1252.4,588.3 1257.2,583.3 1261.9,586.7 1266.7,581.7 1271.4,592.5 1276.2,578.3 1280.9,587.5 1285.7,588.3 1290.4,590.0 1295.2,583.3 1299.9,592.5 1304.6,578.3 1309.4,585.0 1314.1,585.0 1318.9,589.2 1323.6,569.2 1328.4,591.7 1333.1,582.5 1333.1,607" fill="#6ed0e0" fill-opacity="0.1"/>
<polyline points="1057.9,593.3 1062.6,597.5 1067.4,598.3 1072.1,595.8 1076.9,598.3 1081.6,595.0 1086.4,599.2 1091.1,597.5 1095.9,598.3 1100.6,596.7 1105.4,595.8 1110.1,598.3 1114.8,596.7 1119.6,597.5 1124.3,595.0 1129.1,598.3 1133.8,597.5 1138.6,595.0 1143.3,597.5 1148.1,595.8 1152.8,596.7 1157.5,598.3 1162.3,595.8 1167.0,596.7 1171.8,595.0 1176.5,590.8 1181.3,592.5 1186.0,595.8 1190.8,590.8 1195.5,597.5 1200.2,592.5 1205.0,596.7 1209.7,585.0 1214.5,586.7 1219.2,585.8 1224.0,588.3 1228.7,593.3 1233.5,591.7 1238.2,593.3 1243.0,594.2 1247.7,590.0 1252.4,588.3 1257.2,583.3 1261.9,586.7 1266.7,581.7 1271.4,592.5 1276.2,578.3 1280.9,587.5 1285.7,588.3 1290.4,590.0 1295.2,583.3 1299.9,592.5 1304.6,578.3 1309.4,585.0 1314.1,585.0 1318.9,589.2 1323.6,569.2 1328.4,591.7 1333.1,582.5" fill="none" stroke="#6ed0e0" stroke-width="1.25" stroke-linejoin="round"/>
<polygon points="1057.9,607 1057.9,588.3 1062.6,594.2 1067.4,595.0 1072.1,595.8 1076.9,594.2 1081.6,595.0 1086.4,595.8 1091.1,594.2 1095.9,595.0 1100.6,593.3 1105.4,592.5 1110.1,594.2 1114.8,595.0 1119.6,593.3 1124.3,591.7 1129.1,593.3 1133.8,591.7 1138.6,594.2 1143.3,592.5 1148.1,593.3 1152.8,590.8 1157.5,590.0 1162.3,590.8 1167.0,591.7 1171.8,581.7 1176.5,585.0 1181.3,584.2 1186.0,585.0 1190.8,580.0 1195.5,586.7 1200.2,583.3 1205.0,585.0 1209.7,557.5 1214.5,565.8 1219.2,564.2 1224.0,576.7 1228.7,579.2 1233.5,578.3 1238.2,580.0 1243.0,582.5 1247.7,580.0 1252.4,582.5 1257.2,573.3 1261.9,575.8 1266.7,573.3 1271.4,575.0 1276.2,572.5 1280.9,577.5 1285.7,573.3 1290.4,568.3 1295.2,571.7 1299.9,571.7 1304.6,573.3 1309.4,578.3 1314.1,571.7 1318.9,578.3 1323.6,557.5 1328.4,573.3 1333.1,561.7 1333.1,607" fill="#ef843c" fill-opacity="0.1"/>
<polyline points="1057.9,588.3 1062.6,594.2 1067.4,595.0 1072.1,595.8 1076.9,594.2 1081.6,595.0 1086.4,595.8 1091.1,594.2 1095.9,595.0 1100.6,593.3 1105.4,592.5 1110.1,594.2 1114.8,595.0 1119.6,593.3 1124.3,591.7 1129.1,593.3 1133.8,591.7 1138.6,594.2 1143.3,592.5 1148.1,593.3 1152.8,590.8 1157.5,590.0 1162.3,590.8 1167.0,591.7 1171.8,581.7 1176.5,585.0 1181.3,584.2 1186.0,585.0 1190.8,580.0 1195.5,586.7 1200.2,583.3 1205.0,585.0 1209.7,557.5 1214.5,565.8 1219.2,564.2 1224.0,576.7 1228.7,579.2 1233.5,578.3 1238.2,580.0 1243.0,582.5 1247.7,580.0 1252.4,582.5 1257.2,573.3 1261.9,575.8 1266.7,573.3 1271.4,575.0 1276.2,572.5 1280.9,577.5 1285.7,573.3 1290.4,568.3 1295.2,571.7 1299.9,571.7 1304.6,573.3 1309.4,578.3 1314.1,571.7 1318.9,578.3 1323.6,557.5 1328.4,573.3 1333.1,561.7" fill="none" stroke="#ef843c" stroke-width="1.25" stroke-linejoin="round"/>
<polygon points="1057.9,607 1057.9,599.2 1062.6,600.0 1067.4,600.8 1072.1,601.3 1076.9,600.0 1081.6,601.7 1086.4,599.7 1091.1,600.5 1095.9,600.0 1100.6,601.3 1105.4,599.7 1110.1,600.5 1114.8,599.7 1119.6,600.0 1124.3,599.2 1129.1,600.5 1133.8,599.7 1138.6,600.0 1143.3,599.7 1148.1,599.2 1152.8,598.7 1157.5,598.3 1162.3,597.5 1167.0,598.3 1171.8,595.8 1176.5,595.0 1181.3,594.2 1186.0,592.5 1190.8,590.8 1195.5,596.7 1200.2,592.5 1205.0,598.3 1209.7,576.7 1214.5,578.3 1219.2,582.5 1224.0,586.7 1228.7,590.8 1233.5,588.3 1238.2,591.7 1243.0,590.0 1247.7,593.3 1252.4,590.8 1257.2,583.3 1261.9,588.3 1266.7,584.2 1271.4,592.5 1276.2,585.8 1280.9,588.3 1285.7,587.5 1290.4,586.7 1295.2,585.8 1299.9,584.2 1304.6,582.5 1309.4,592.5 1314.1,585.8 1318.9,591.7 1323.6,575.0 1328.4,588.3 1333.1,580.0 1333.1,607" fill="#e24d42" fill-opacity="0.1"/>
<polyline points="1057.9,599.2 1062.6,600.0 1067.4,600.8 1072.1,601.3 1076.9,600.0 1081.6,601.7 1086.4,599.7 1091.1,600.5 1095.9,600.0 1100.6,601.3 1105.4,599.7 1110.1,600.5 1114.8,599.7 1119.6,600.0 1124.3,599.2 1129.1,600.5 1133.8,599.7 1138.6,600.0 1143.3,599.7 1148.1,599.2 1152.8,598.7 1157.5,598.3 1162.3,597.5 1167.0,598.3 1171.8,595.8 1176.5,595.0 1181.3,594.2 1186.0,592.5 1190.8,590.8 1195.5,596.7 1200.2,592.5 1205.0,598.3 1209.7,576.7 1214.5,578.3 1219.2,582.5 1224.0,586.7 1228.7,590.8 1233.5,588.3 1238.2,591.7 1243.0,590.0 1247.7,593.3 1252.4,590.8 1257.2,583.3 1261.9,588.3 1266.7,584.2 1271.4,592.5 1276.2,585.8 1280.9,588.3 1285.7,587.5 1290.4,586.7 1295.2,585.8 1299.9,584.2 1304.6,582.5 1309.4,592.5 1314.1,585.8 1318.9,591.7 1323.6,575.0 1328.4,588.3 1333.1,580.0" fill="none" stroke="#e24d42" stroke-width="1.25" stroke-linejoin="round"/>
<polygon points="1057.9,607 1057.9,580.0 1062.6,582.5 1067.4,579.7 1072.1,580.8 1076.9,585.0 1081.6,582.0 1086.4,581.7 1091.1,582.5 1095.9,578.3 1100.6,579.2 1105.4,583.3 1110.1,590.0 1114.8,406.4 1119.6,590.0 1124.3,580.0 1129.1,581.7 1133.8,579.7 1138.6,568.0 1143.3,590.0 1148.1,580.8 1152.8,581.7 1157.5,578.3 1162.3,572.5 1167.0,585.0 1171.8,578.3 1176.5,569.2 1181.3,576.7 1186.0,580.0 1190.8,583.3 1195.5,579.2 1200.2,581.7 1205.0,581.7 1209.7,565.8 1214.5,566.7 1219.2,561.7 1224.0,544.2 1228.7,576.7 1233.5,573.3 1238.2,574.2 1243.0,576.7 1247.7,566.7 1252.4,529.2 1257.2,565.8 1261.9,567.5 1266.7,561.7 1271.4,570.8 1276.2,573.3 1280.9,575.8 1285.7,575.0 1290.4,554.2 1295.2,566.7 1299.9,556.7 1304.6,552.5 1309.4,563.3 1314.1,556.7 1318.9,555.8 1323.6,548.3 1328.4,566.7 1333.1,561.7 1333.1,607" fill="#1f78c1" fill-opacity="0.1"/>
<polyline points="1057.9,580.0 1062.6,582.5 1067.4,579.7 1072.1,580.8 1076.9,585.0 1081.6,582.0 1086.4,581.7 1091.1,582.5 1095.9,578.3 1100.6,579.2 1105.4,583.3 1110.1,590.0 1114.8,406.4 1119.6,590.0 1124.3,580.0 1129.1,581.7 1133.8,579.7 1138.6,568.0 1143.3,590.0 1148.1,580.8 1152.8,581.7 1157.5,578.3 1162.3,572.5 1167.0,585.0 1171.8,578.3 1176.5,569.2 1181.3,576.7 1186.0,580.0 1190.8,583.3 1195.5,579.2 1200.2,581.7 1205.0,581.7 1209.7,565.8 1214.5,566.7 1219.2,561.7 1224.0,544.2 1228.7,576.7 1233.5,573.3 1238.2,574.2 1243.0,576.7 1247.7,566.7 1252.4,529.2 1257.2,565.8 1261.9,567.5 1266.7,561.7 1271.4,570.8 1276.2,573.3 1280.9,575.8 1285.7,575.0 1290.4,554.2 1295.2,566.7 1299.9,556.7 1304.6,552.5 1309.4,563.3 1314.1,556.7 1318.9,555.8 1323.6,548.3 1328.4,566.7 1333.1,561.7" fill="none" stroke="#1f78c1" stroke-width="1.25" stroke-linejoin="round"/>
<polygon points="1057.9,607 1057.9,598.3 1062.6,588.3 1067.4,596.7 1072.1,599.2 1076.9,600.0 1081.6,598.3 1086.4,597.5 1091.1,598.3 1095.9,596.7 1100.6,597.5 1105.4,593.3 1110.1,597.5 1114.8,595.8 1119.6,596.7 1124.3,594.2 1129.1,595.8 1133.8,595.0 1138.6,593.3 1143.3,595.8 1148.1,594.2 1152.8,591.7 1157.5,590.8 1162.3,590.0 1167.0,594.2 1171.8,590.8 1176.5,591.7 1181.3,590.0 1186.0,588.3 1190.8,583.3 1195.5,591.7 1200.2,585.0 1205.0,585.8 1209.7,568.3 1214.5,571.7 1219.2,570.8 1224.0,560.0 1228.7,581.7 1233.5,586.7 1238.2,584.2 1243.0,590.0 1247.7,581.7 1252.4,586.7 1257.2,578.3 1261.9,581.7 1266.7,578.3 1271.4,582.5 1276.2,582.5 1280.9,581.7 1285.7,577.5 1290.4,578.3 1295.2,582.5 1299.9,575.0 1304.6,580.0 1309.4,583.3 1314.1,580.8 1318.9,582.5 1323.6,564.2 1328.4,581.7 1333.1,575.0 1333.1,607" fill="#ba43a9" fill-opacity="0.1"/>
<polyline points="1057.9,598.3 1062.6,588.3 1067.4,596.7 1072.1,599.2 1076.9,600.0 1081.6,598.3 1086.4,597.5 1091.1,598.3 1095.9,596.7 1100.6,597.5 1105.4,593.3 1110.1,597.5 1114.8,595.8 1119.6,596.7 1124.3,594.2 1129.1,595.8 1133.8,595.0 1138.6,593.3 1143.3,595.8 1148.1,594.2 1152.8,591.7 1157.5,590.8 1162.3,590.0 1167.0,594.2 1171.8,590.8 1176.5,591.7 1181.3,590.0 1186.0,588.3 1190.8,583.3 1195.5,591.7 1200.2,585.0 1205.0,585.8 1209.7,568.3 1214.5,571.7 1219.2,570.8 1224.0,560.0 1228.7,581.7 1233.5,586.7 1238.2,584.2 1243.0,590.0 1247.7,581.7 1252.4,586.7 1257.2,578.3 1261.9,581.7 1266.7,578.3 1271.4,582.5 1276.2,582.5 1280.9,581.7 1285.7,577.5 1290.4,578.3 1295.2,582.5 1299.9,575.0 1304.6,580.0 1309.4,583.3 1314.1,580.8 1318.9,582.5 1323.6,564.2 1328.4,581.7 1333.1,575.0" fill="none" stroke="#ba43a9" stroke-width="1.25" stroke-linejoin="round"/>
<polygon points="1057.9,607 1057.9,577.5 1062.6,575.0 1067.4,580.8 1072.1,580.0 1076.9,581.7 1081.6,583.3 1086.4,585.0 1091.1,588.3 1095.9,585.8 1100.6,575.0 1105.4,577.5 1110.1,566.7 1114.8,570.8 1119.6,583.3 1124.3,562.5 1129.1,585.0 1133.8,573.3 1138.6,582.5 1143.3,565.8 1148.1,575.8 1152.8,576.7 1157.5,572.5 1162.3,571.7 1167.0,581.7 1171.8,578.3 1176.5,570.0 1181.3,570.0 1186.0,572.5 1190.8,569.2 1195.5,571.7 1200.2,566.7 1205.0,573.3 1209.7,550.8 1214.5,560.0 1219.2,555.0 1224.0,563.3 1228.7,566.7 1233.5,575.8 1238.2,570.0 1243.0,565.0 1247.7,538.3 1252.4,569.2 1257.2,563.3 1261.9,564.2 1266.7,564.7 1271.4,564.2 1276.2,560.3 1280.9,565.0 1285.7,554.2 1290.4,552.0 1295.2,562.0 1299.9,556.7 1304.6,551.7 1309.4,564.2 1314.1,557.5 1318.9,560.8 1323.6,556.7 1328.4,560.8 1333.1,553.3 1333.1,607" fill="#705da0" fill-opacity="0.1"/>
<polyline points="1057.9,577.5 1062.6,575.0 1067.4,580.8 1072.1,580.0 1076.9,581.7 1081.6,583.3 1086.4,585.0 1091.1,588.3 1095.9,585.8 1100.6,575.0 1105.4,577.5 1110.1,566.7 1114.8,570.8 1119.6,583.3 1124.3,562.5 1129.1,585.0 1133.8,573.3 1138.6,582.5 1143.3,565.8 1148.1,575.8 1152.8,576.7 1157.5,572.5 1162.3,571.7 1167.0,581.7 1171.8,578.3 1176.5,570.0 1181.3,570.0 1186.0,572.5 1190.8,569.2 1195.5,571.7 1200.2,566.7 1205.0,573.3 1209.7,550.8 1214.5,560.0 1219.2,555.0 1224.0,563.3 1228.7,566.7 1233.5,575.8 1238.2,570.0 1243.0,565.0 1247.7,538.3 1252.4,569.2 1257.2,563.3 1261.9,564.2 1266.7,564.7 1271.4,564.2 1276.2,560.3 1280.9,565.0 1285.7,554.2 1290.4,552.0 1295.2,562.0 1299.9,556.7 1304.6,551.7 1309.4,564.2 1314.1,557.5 1318.9,560.8 1323.6,556.7 1328.4,560.8 1333.1,553.3" fill="none" stroke="#705da0" stroke-width="1.25" stroke-linejoin="round"/>
<polygon points="1057.9,607 1057.9,570.8 1062.6,558.3 1067.4,553.3 1072.1,573.3 1076.9,574.2 1081.6,573.0 1086.4,573.3 1091.1,573.7 1095.9,574.2 1100.6,571.3 1105.4,572.5 1110.1,571.7 1114.8,563.3 1119.6,572.5 1124.3,555.8 1129.1,573.3 1133.8,550.8 1138.6,564.2 1143.3,568.0 1148.1,560.8 1152.8,553.7 1157.5,566.7 1162.3,561.7 1167.0,565.8 1171.8,563.3 1176.5,560.8 1181.3,560.0 1186.0,563.3 1190.8,550.8 1195.5,561.7 1200.2,560.8 1205.0,565.0 1209.7,550.0 1214.5,545.8 1219.2,539.7 1224.0,547.5 1228.7,555.0 1233.5,562.5 1238.2,545.8 1243.0,547.5 1247.7,529.2 1252.4,529.2 1257.2,548.3 1261.9,548.7 1266.7,543.7 1271.4,550.0 1276.2,544.7 1280.9,552.5 1285.7,530.3 1290.4,539.2 1295.2,549.2 1299.9,540.0 1304.6,526.7 1309.4,544.2 1314.1,530.3 1318.9,529.7 1323.6,526.7 1328.4,528.0 1333.1,514.2 1333.1,607" fill="#508642" fill-opacity="0.1"/>
<polyline points="1057.9,570.8 1062.6,558.3 1067.4,553.3 1072.1,573.3 1076.9,574.2 1081.6,573.0 1086.4,573.3 1091.1,573.7 1095.9,574.2 1100.6,571.3 1105.4,572.5 1110.1,571.7 1114.8,563.3 1119.6,572.5 1124.3,555.8 1129.1,573.3 1133.8,550.8 1138.6,564.2 1143.3,568.0 1148.1,560.8 1152.8,553.7 1157.5,566.7 1162.3,561.7 1167.0,565.8 1171.8,563.3 1176.5,560.8 1181.3,560.0 1186.0,563.3 1190.8,550.8 1195.5,561.7 1200.2,560.8 1205.0,565.0 1209.7,550.0 1214.5,545.8 1219.2,539.7 1224.0,547.5 1228.7,555.0 1233.5,562.5 1238.2,545.8 1243.0,547.5 1247.7,529.2 1252.4,529.2 1257.2,548.3 1261.9,548.7 1266.7,543.7 1271.4,550.0 1276.2,544.7 1280.9,552.5 1285.7,530.3 1290.4,539.2 1295.2,549.2 1299.9,540.0 1304.6,526.7 1309.4,544.2 1314.1,530.3 1318.9,529.7 1323.6,526.7 1328.4,528.0 1333.1,514.2" fill="none" stroke="#508642" stroke-width="1.25" stroke-linejoin="round"/>
<polygon points="1057.9,607 1057.9,592.0 1062.6,592.5 1067.4,591.7 1072.1,591.3 1076.9,592.5 1081.6,592.2 1086.4,592.0 1091.1,591.7 1095.9,591.3 1100.6,590.0 1105.4,586.7 1110.1,591.7 1114.8,592.5 1119.6,593.0 1124.3,588.3 1129.1,590.8 1133.8,589.2 1138.6,591.7 1143.3,592.0 1148.1,591.3 1152.8,587.5 1157.5,585.8 1162.3,587.5 1167.0,588.3 1171.8,584.2 1176.5,583.3 1181.3,581.7 1186.0,582.5 1190.8,578.3 1195.5,583.3 1200.2,580.8 1205.0,582.5 1209.7,564.2 1214.5,565.8 1219.2,563.3 1224.0,577.5 1228.7,578.3 1233.5,579.2 1238.2,578.3 1243.0,581.7 1247.7,566.7 1252.4,581.7 1257.2,571.7 1261.9,572.5 1266.7,564.2 1271.4,573.3 1276.2,562.5 1280.9,574.2 1285.7,571.7 1290.4,565.8 1295.2,571.7 1299.9,570.8 1304.6,563.0 1309.4,576.7 1314.1,571.7 1318.9,570.8 1323.6,564.2 1328.4,566.7 1333.1,569.2 1333.1,607" fill="#cca300" fill-opacity="0.1"/>
<polyline points="1057.9,592.0 1062.6,592.5 1067.4,591.7 1072.1,591.3 1076.9,592.5 1081.6,592.2 1086.4,592.0 1091.1,591.7 1095.9,591.3 1100.6,590.0 1105.4,586.7 1110.1,591.7 1114.8,592.5 1119.6,593.0 1124.3,588.3 1129.1,590.8 1133.8,589.2 1138.6,591.7 1143.3,592.0 1148.1,591.3 1152.8,587.5 1157.5,585.8 1162.3,587.5 1167.0,588.3 1171.8,584.2 1176.5,583.3 1181.3,581.7 1186.0,582.5 1190.8,578.3 1195.5,583.3 1200.2,580.8 1205.0,582.5 1209.7,564.2 1214.5,565.8 1219.2,563.3 1224.0,577.5 1228.7,578.3 1233.5,579.2 1238.2,578.3 1243.0,581.7 1247.7,566.7 1252.4,581.7 1257.2,571.7 1261.9,572.5 1266.7,564.2 1271.4,573.3 1276.2,562.5 1280.9,574.2 1285.7,571.7 1290.4,565.8 1295.2,571.7 1299.9,570.8 1304.6,563.0 1309.4,576.7 1314.1,571.7 1318.9,570.8 1323.6,564.2 1328.4,566.7 1333.1,569.2" fill="none" stroke="#cca300" stroke-width="1.4" stroke-linejoin="round"/>
<polygon points="1057.9,607 1057.9,586.7 1062.6,586.3 1067.4,590.0 1072.1,590.8 1076.9,592.5 1081.6,591.7 1086.4,590.8 1091.1,591.7 1095.9,593.3 1100.6,590.8 1105.4,586.7 1110.1,583.3 1114.8,554.2 1119.6,586.7 1124.3,581.7 1129.1,583.3 1133.8,586.7 1138.6,580.0 1143.3,583.3 1148.1,590.0 1152.8,587.5 1157.5,584.2 1162.3,590.0 1167.0,590.8 1171.8,586.7 1176.5,585.0 1181.3,582.5 1186.0,583.3 1190.8,580.0 1195.5,581.7 1200.2,580.0 1205.0,582.5 1209.7,566.7 1214.5,565.8 1219.2,562.5 1224.0,566.7 1228.7,578.3 1233.5,583.3 1238.2,575.8 1243.0,578.3 1247.7,575.0 1252.4,573.3 1257.2,568.3 1261.9,578.3 1266.7,576.7 1271.4,581.7 1276.2,573.3 1280.9,575.8 1285.7,573.3 1290.4,571.7 1295.2,579.2 1299.9,580.0 1304.6,573.3 1309.4,576.7 1314.1,570.0 1318.9,566.7 1323.6,563.3 1328.4,575.0 1333.1,573.3 1333.1,607" fill="#447ebc" fill-opacity="0.1"/>
<polyline points="1057.9,586.7 1062.6,586.3 1067.4,590.0 1072.1,590.8 1076.9,592.5 1081.6,591.7 1086.4,590.8 1091.1,591.7 1095.9,593.3 1100.6,590.8 1105.4,586.7 1110.1,583.3 1114.8,554.2 1119.6,586.7 1124.3,581.7 1129.1,583.3 1133.8,586.7 1138.6,580.0 1143.3,583.3 1148.1,590.0 1152.8,587.5 1157.5,584.2 1162.3,590.0 1167.0,590.8 1171.8,586.7 1176.5,585.0 1181.3,582.5 1186.0,583.3 1190.8,580.0 1195.5,581.7 1200.2,580.0 1205.0,582.5 1209.7,566.7 1214.5,565.8 1219.2,562.5 1224.0,566.7 1228.7,578.3 1233.5,583.3 1238.2,575.8 1243.0,578.3 1247.7,575.0 1252.4,573.3 1257.2,568.3 1261.9,578.3 1266.7,576.7 1271.4,581.7 1276.2,573.3 1280.9,575.8 1285.7,573.3 1290.4,571.7 1295.2,579.2 1299.9,580.0 1304.6,573.3 1309.4,576.7 1314.1,570.0 1318.9,566.7 1323.6,563.3 1328.4,575.0 1333.1,573.3" fill="none" stroke="#447ebc" stroke-width="1.25" stroke-linejoin="round"/>
<line x1="1057" y1="390.5" x2="1057" y2="606.8" stroke="#14b2de" stroke-width="1.25" stroke-dasharray="3.2 1.8"/>
<polygon points="1057,608.5 1050.8,614.8 1063.2,614.8" fill="#14b2de"/>
</svg>
<div class="t title" style="top:14.19px;font-size:17.5px;left:289.20px;transform:translateX(-50%);">Total Throughput</div>
<div class="t title" style="top:14.19px;font-size:17.5px;left:894.50px;transform:translateX(-50%);">Active Threads</div>
<div class="t title" style="top:14.19px;font-size:17.5px;left:1500.00px;transform:translateX(-50%);">Total Errors</div>
<div class="t title" style="top:344.59px;font-size:17.5px;left:478.00px;transform:translateX(-50%);">Transactions Response Times (avg)</div>
<div class="t title" style="top:344.59px;font-size:17.5px;left:1386.50px;transform:translateX(-50%);">Transactions Response Times (95th pct)</div>
<div class="t" style="top:52.00px;right:1755.30px;">1.5 K</div>
<div class="t" style="top:103.67px;right:1755.30px;">1.0 K</div>
<div class="t" style="top:155.33px;right:1755.30px;">500</div>
<div class="t" style="top:208.00px;right:1755.30px;">0</div>
<div class="t" style="top:233.00px;left:104.40px;transform:translateX(-50%);">23:08</div>
<div class="t" style="top:233.00px;left:206.40px;transform:translateX(-50%);">23:09</div>
<div class="t" style="top:233.00px;left:308.40px;transform:translateX(-50%);">23:10</div>
<div class="t" style="top:233.00px;left:410.40px;transform:translateX(-50%);">23:11</div>
<div class="t" style="top:233.00px;left:512.40px;transform:translateX(-50%);">23:12</div>
<div class="li" style="left:35.8px;top:297.2px;width:13.3px;background:#6ed0e0"></div>
<div class="t" style="top:289.60px;left:61.20px;">Req / s</div>
<div class="t lh" style="top:263.00px;right:1386.40px;">min</div>
<div class="t lh" style="top:263.00px;right:1312.30px;">max</div>
<div class="t lh" style="top:263.00px;right:1235.80px;">avg</div>
<div class="t" style="top:289.60px;right:1386.40px;">29.00</div>
<div class="t" style="top:289.60px;right:1312.30px;">1.11 K</div>
<div class="t" style="top:289.60px;right:1235.80px;">720.45</div>
<div class="sb" style="left:577px;top:263px;width:10px;height:48px"></div>
<div class="t" style="top:52.00px;right:1166.70px;">80</div>
<div class="t" style="top:90.75px;right:1166.70px;">60</div>
<div class="t" style="top:129.50px;right:1166.70px;">40</div>
<div class="t" style="top:168.25px;right:1166.70px;">20</div>
<div class="t" style="top:208.00px;right:1166.70px;">0</div>
<div class="t" style="top:233.00px;left:694.00px;transform:translateX(-50%);">23:08</div>
<div class="t" style="top:233.00px;left:799.80px;transform:translateX(-50%);">23:09</div>
<div class="t" style="top:233.00px;left:905.60px;transform:translateX(-50%);">23:10</div>
<div class="t" style="top:233.00px;left:1011.40px;transform:translateX(-50%);">23:11</div>
<div class="t" style="top:233.00px;left:1117.20px;transform:translateX(-50%);">23:12</div>
<div class="li" style="left:640.5px;top:297.2px;width:13.0px;background:#6f52b0"></div>
<div class="t" style="top:289.60px;left:667.00px;">Threads</div>
<div class="t lh" style="top:263.00px;right:630.00px;">current</div>
<div class="t" style="top:289.60px;right:630.00px;">59</div>
<div class="sb" style="left:1183px;top:263px;width:10px;height:48px"></div>
<div class="t" style="top:52.00px;right:566.70px;">1</div>
<div class="t" style="top:129.25px;right:566.70px;">0</div>
<div class="t" style="top:207.50px;right:566.70px;">-1</div>
<div class="t" style="top:233.00px;left:1295.80px;transform:translateX(-50%);">23:08</div>
<div class="t" style="top:233.00px;left:1401.80px;transform:translateX(-50%);">23:09</div>
<div class="t" style="top:233.00px;left:1508.00px;transform:translateX(-50%);">23:10</div>
<div class="t" style="top:233.00px;left:1614.20px;transform:translateX(-50%);">23:11</div>
<div class="t" style="top:233.00px;left:1720.60px;transform:translateX(-50%);">23:12</div>
<div class="li" style="left:1246.5px;top:297.2px;width:13.5px;background:#bf1b00"></div>
<div class="t" style="top:289.60px;left:1272.50px;">Num of Errors</div>
<div class="t lh" style="top:263.00px;right:24.50px;">total</div>
<div class="t" style="top:289.60px;right:24.50px;">0</div>
<div class="sb" style="left:1788px;top:263px;width:10px;height:48px"></div>
<div class="t" style="top:382.90px;right:1739.80px;">150 ms</div>
<div class="t" style="top:454.40px;right:1739.80px;">100 ms</div>
<div class="t" style="top:525.90px;right:1739.80px;">50 ms</div>
<div class="t" style="top:598.60px;right:1739.80px;">0 ms</div>
<div class="t" style="top:623.90px;left:112.90px;transform:translateX(-50%);">23:08</div>
<div class="t" style="top:623.90px;left:201.70px;transform:translateX(-50%);">23:09</div>
<div class="t" style="top:623.90px;left:290.50px;transform:translateX(-50%);">23:10</div>
<div class="t" style="top:623.90px;left:379.20px;transform:translateX(-50%);">23:11</div>
<div class="t" style="top:623.90px;left:468.00px;transform:translateX(-50%);">23:12</div>
<div class="clip" style="left:540px;top:387.5px;width:430px;height:257.3px">
<div class="t lh" style="top:2.60px;right:116.10px;">max</div>
<div class="t lh" style="top:2.60px;right:23.20px;">avg</div>
<div class="li" style="left:16.3px;top:37.1px;width:13.3px;background:#7eb26d"></div>
<div class="t" style="top:29.50px;left:42.50px;"><span class="px">10_</span>支付订单信息</div>
<div class="t" style="top:29.50px;right:116.10px;">74.74 ms</div>
<div class="t" style="top:29.50px;right:23.20px;">45.75 ms</div>
<div class="stripe" style="left:0.8px;top:52.2px;width:417.5px"></div>
<div class="li" style="left:16.3px;top:67.1px;width:13.3px;background:#eab839"></div>
<div class="t" style="top:59.50px;left:42.50px;"><span class="px">11_</span>支付后查询订单详情</div>
<div class="t" style="top:59.50px;right:116.10px;">28.51 ms</div>
<div class="t" style="top:59.50px;right:23.20px;">18.10 ms</div>
<div class="li" style="left:16.3px;top:97.1px;width:13.3px;background:#6ed0e0"></div>
<div class="t" style="top:89.50px;left:42.50px;"><span class="px">1_</span>打开首页</div>
<div class="t" style="top:89.50px;right:116.10px;">38.88 ms</div>
<div class="t" style="top:89.50px;right:23.20px;">24.33 ms</div>
<div class="stripe" style="left:0.8px;top:112.2px;width:417.5px"></div>
<div class="li" style="left:16.3px;top:127.1px;width:13.3px;background:#ef843c"></div>
<div class="t" style="top:119.50px;left:42.50px;"><span class="px">2_</span>用户登陆</div>
<div class="t" style="top:119.50px;right:116.10px;">72.62 ms</div>
<div class="t" style="top:119.50px;right:23.20px;">38.70 ms</div>
<div class="li" style="left:16.3px;top:157.1px;width:13.3px;background:#e24d42"></div>
<div class="t" style="top:149.50px;left:42.50px;"><span class="px">3_</span>用户信息查询</div>
<div class="t" style="top:149.50px;right:116.10px;">35.55 ms</div>
<div class="t" style="top:149.50px;right:23.20px;">18.73 ms</div>
<div class="stripe" style="left:0.8px;top:172.2px;width:417.5px"></div>
<div class="li" style="left:16.3px;top:187.1px;width:13.3px;background:#1f78c1"></div>
<div class="t" style="top:179.50px;left:42.50px;"><span class="px">5_</span>商品加入购物车</div>
<div class="t" style="top:179.50px;right:116.10px;">78.40 ms</div>
<div class="t" style="top:179.50px;right:23.20px;">41.66 ms</div>
<div class="li" style="left:16.3px;top:217.1px;width:13.3px;background:#ba43a9"></div>
<div class="t" style="top:209.50px;left:42.50px;"><span class="px">6_</span>查询购物车信息</div>
<div class="t" style="top:209.50px;right:116.10px;">54.05 ms</div>
<div class="t" style="top:209.50px;right:23.20px;">30.60 ms</div>
<div class="stripe" style="left:0.8px;top:232.2px;width:417.5px"></div>
<div class="li" style="left:16.3px;top:247.1px;width:13.3px;background:#705da0"></div>
<div class="t" style="top:239.50px;left:42.50px;"><span class="px">7_</span>购物车信息确定订单</div>
<div class="t" style="top:239.50px;right:116.10px;">96.33 ms</div>
<div class="t" style="top:239.50px;right:23.20px;">66.08 ms</div>
</div>
<div class="sb" style="left:955.3px;top:390.5px;width:9.5px;height:182.5px"></div>
<div class="t" style="top:382.90px;right:756.30px;">600 ms</div>
<div class="t" style="top:418.65px;right:756.30px;">500 ms</div>
<div class="t" style="top:454.40px;right:756.30px;">400 ms</div>
<div class="t" style="top:490.15px;right:756.30px;">300 ms</div>
<div class="t" style="top:525.90px;right:756.30px;">200 ms</div>
<div class="t" style="top:561.65px;right:756.30px;">100 ms</div>
<div class="t" style="top:598.60px;right:756.30px;">0 ms</div>
<div class="t" style="top:623.90px;left:1082.10px;transform:translateX(-50%);">23:08</div>
<div class="t" style="top:623.90px;left:1195.90px;transform:translateX(-50%);">23:10</div>
<div class="t" style="top:623.90px;left:1309.70px;transform:translateX(-50%);">23:12</div>
<div class="clip" style="left:1365px;top:387.5px;width:433px;height:257.3px">
<div class="stripe" style="left:0.5px;top:-23.4px;width:427.3px"></div>
<div class="li" style="left:16.3px;top:-8.5px;width:13.3px;background:#eab839"></div>
<div class="t" style="top:-16.10px;left:42.00px;"><span class="px">11_</span>支付后查询订单详情</div>
<div class="t" style="top:-16.10px;right:119.70px;">79.95 ms</div>
<div class="t" style="top:-16.10px;right:18.50px;">36.44 ms</div>
<div class="li" style="left:16.3px;top:21.5px;width:13.3px;background:#6ed0e0"></div>
<div class="t" style="top:13.90px;left:42.00px;"><span class="px">1_</span>打开首页</div>
<div class="t" style="top:13.90px;right:119.70px;">109.95 ms</div>
<div class="t" style="top:13.90px;right:18.50px;">43.75 ms</div>
<div class="stripe" style="left:0.5px;top:36.6px;width:427.3px"></div>
<div class="li" style="left:16.3px;top:51.5px;width:13.3px;background:#ef843c"></div>
<div class="t" style="top:43.90px;left:42.00px;"><span class="px">2_</span>用户登陆</div>
<div class="t" style="top:43.90px;right:119.70px;">138.95 ms</div>
<div class="t" style="top:43.90px;right:18.50px;">67.10 ms</div>
<div class="li" style="left:16.3px;top:81.5px;width:13.3px;background:#e24d42"></div>
<div class="t" style="top:73.90px;left:42.00px;"><span class="px">3_</span>用户信息查询</div>
<div class="t" style="top:73.90px;right:119.70px;">85.85 ms</div>
<div class="t" style="top:73.90px;right:18.50px;">38.30 ms</div>
<div class="stripe" style="left:0.5px;top:96.6px;width:427.3px"></div>
<div class="li" style="left:16.3px;top:111.5px;width:13.3px;background:#1f78c1"></div>
<div class="t" style="top:103.90px;left:42.00px;"><span class="px">5_</span>商品加入购物车</div>
<div class="t" style="top:103.90px;right:119.70px;">559.85 ms</div>
<div class="t" style="top:103.90px;right:18.50px;">77.29 ms</div>
<div class="li" style="left:16.3px;top:141.5px;width:13.3px;background:#ba43a9"></div>
<div class="t" style="top:133.90px;left:42.00px;"><span class="px">6_</span>查询购物车信息</div>
<div class="t" style="top:133.90px;right:119.70px;">131.90 ms</div>
<div class="t" style="top:133.90px;right:18.50px;">56.12 ms</div>
<div class="stripe" style="left:0.5px;top:156.6px;width:427.3px"></div>
<div class="li" style="left:16.3px;top:171.5px;width:13.3px;background:#705da0"></div>
<div class="t" style="top:163.90px;left:42.00px;"><span class="px">7_</span>购物车信息确定订单</div>
<div class="t" style="top:163.90px;right:119.70px;">191.90 ms</div>
<div class="t" style="top:163.90px;right:18.50px;">105.06 ms</div>
<div class="li" style="left:16.3px;top:201.5px;width:13.3px;background:#508642"></div>
<div class="t" style="top:193.90px;left:42.00px;"><span class="px">8_</span>生成订单信息</div>
<div class="t" style="top:193.90px;right:119.70px;">258.80 ms</div>
<div class="t" style="top:193.90px;right:18.50px;">147.03 ms</div>
<div class="stripe" style="left:0.5px;top:216.6px;width:427.3px"></div>
<div class="li" style="left:16.3px;top:231.5px;width:13.3px;background:#cca300"></div>
<div class="t" style="top:223.90px;left:42.00px;"><span class="px">9_</span>支付前查询订单列表</div>
<div class="t" style="top:223.90px;right:119.70px;">124.95 ms</div>
<div class="t" style="top:223.90px;right:18.50px;">72.69 ms</div>
<div class="li" style="left:16.3px;top:261.5px;width:13.3px;background:#447ebc"></div>
<div class="t" style="top:253.90px;left:42.00px;">all</div>
<div class="t" style="top:253.90px;right:119.70px;">246.95 ms</div>
<div class="t" style="top:253.90px;right:18.50px;">95.87 ms</div>
</div>
<div class="sb" style="left:1789px;top:443.8px;width:9.5px;height:182.5px"></div>
</body></html>
